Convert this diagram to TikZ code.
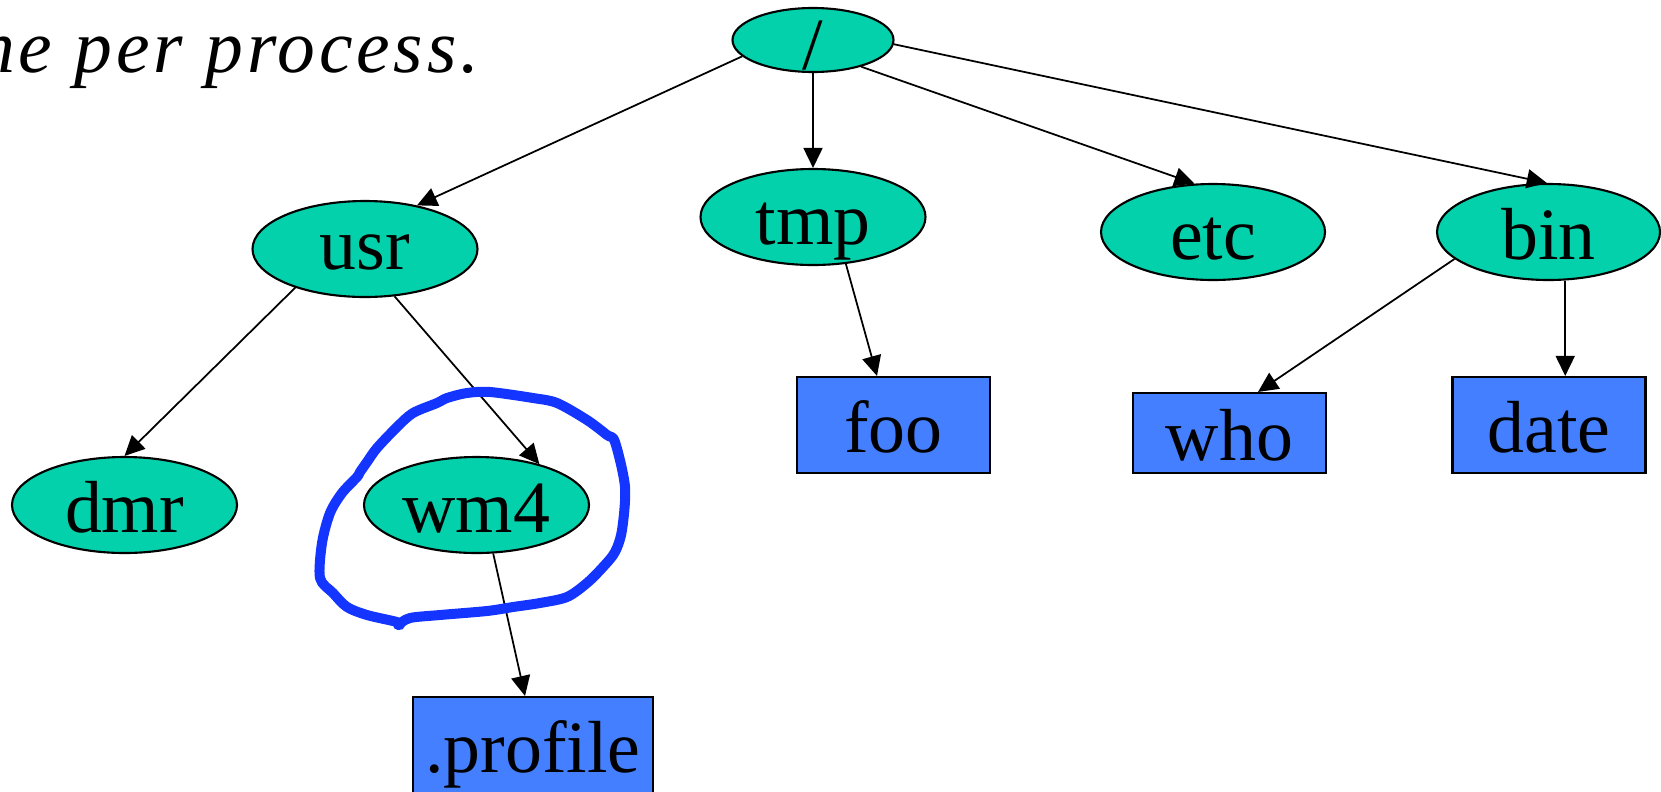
\documentclass[tikz,border=0pt]{standalone}
\usepackage{fontspec}
\setmainfont{Liberation Serif}
\usetikzlibrary{shapes,arrows.meta,positioning}
\definecolor{dirgreen}{RGB}{3,209,172}
\definecolor{fileblue}{RGB}{68,127,255}
\definecolor{penblue}{RGB}{20,52,255}

\begin{document}
\begin{tikzpicture}[
  dir/.style={ellipse,draw,line width=0.6pt,fill=dirgreen,inner sep=0pt,
    minimum width=2.25cm,minimum height=0.96cm,
    font=\fontsize{21}{24}\selectfont,text height=0.54cm,text depth=0cm},
  file/.style={rectangle,draw,line width=0.6pt,fill=fileblue,inner sep=0pt,
    minimum width=1.93cm,minimum height=0.96cm,
    font=\fontsize{21}{24}\selectfont,text height=0.54cm,text depth=0cm},
  link/.style={line width=0.5pt,-{Triangle[length=0.2cm,width=0.19cm]}}]
\useasboundingbox (0,0) rectangle (16.61,-7.91);
% Caption (cut at the left edge)
\node[anchor=base east,inner sep=0pt,font=\itshape\fontsize{21.5}{26}\selectfont\addfontfeature{LetterSpace=5}] (title) at (4.80,-0.72) {ne per process.};
% Directories
\node[dir,minimum width=1.61cm,minimum height=0.64cm,text height=0.58cm,inner ysep=-0.12cm] (root) at (8.13,-0.40) {/};
\node[dir,text height=0.40cm] (usr) at (3.65,-2.49) {usr};
\node[dir] (tmp) at (8.13,-2.17) {tmp};
\node[dir,minimum width=2.24cm] (etc) at (12.13,-2.32) {etc};
\node[dir,minimum width=2.23cm] (bin) at (15.485,-2.32) {bin};
\node[dir] (dmr) at (1.245,-5.05) {dmr};
\node[dir] (wm4) at (4.765,-5.05) {wm4};
% Files
\node[file] (foo) at (8.935,-4.25) {foo};
\node[file,minimum height=0.80cm] (who) at (12.295,-4.33) {who};
\node[file] (date) at (15.49,-4.25) {date};
\node[file,minimum width=2.40cm] (profile) at (5.33,-7.45) {.profile};
% Edges
\draw[link] (root.193) -- (usr.40);
\draw[link] (root) -- (tmp);
\draw[link] (root.331) -- (etc.111);
\draw[link] (root.357) -- (bin.92);
\draw[link] (usr.209) -- (dmr.north);
\draw[link] (usr.302) -- (wm4.33);
\draw[link] (tmp.305) -- ([xshift=-0.165cm]foo.north);
\draw[link] (wm4.289) -- ([xshift=-0.08cm]profile.north);
\draw[link] (bin.196) -- ([xshift=0.285cm]who.north);
\draw[link] (bin.289) -- (bin.289 |- date.north);
% Hand-drawn loop round wm4
\draw[penblue,line width=0.1cm,line cap=round,line join=round] plot[smooth,tension=0.5] coordinates {
  (3.98,-6.25) (4.10,-6.18) (4.40,-6.15) (4.87,-6.11) (5.13,-6.07) (5.40,-6.03)
  (5.67,-5.97) (5.87,-5.83) (6.03,-5.67) (6.15,-5.52) (6.22,-5.30) (6.25,-4.87)
  (6.15,-4.42) (6.07,-4.35) (5.87,-4.20) (5.57,-4.03) (5.33,-3.98) (4.90,-3.92)
  (4.67,-3.93) (4.47,-3.98) (4.37,-4.03) (4.13,-4.13) (3.97,-4.27) (3.77,-4.48)
  (3.67,-4.62) (3.60,-4.72) (3.57,-4.77) (3.42,-4.93) (3.30,-5.13) (3.22,-5.43)
  (3.20,-5.78) (3.33,-5.93) (3.47,-6.07) (3.67,-6.15) (3.97,-6.22) (4.00,-6.25)};
\end{tikzpicture}
\end{document}
